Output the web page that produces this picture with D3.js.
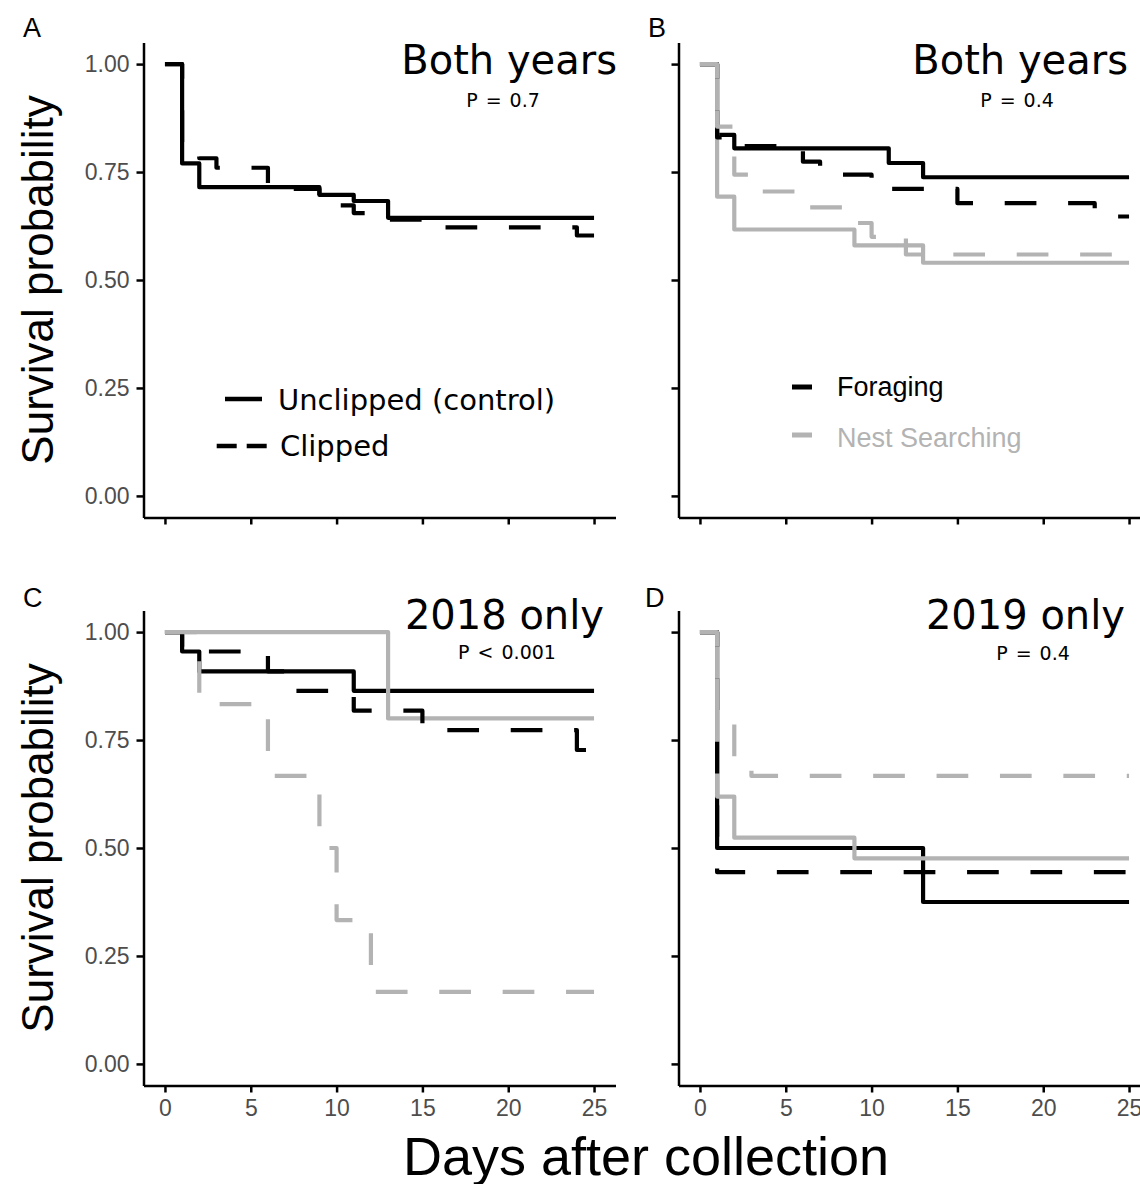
<!DOCTYPE html>
<html>
<head>
<meta charset="utf-8">
<script src="https://cdn.jsdelivr.net/npm/d3@7"></script>
<style>
  body { margin: 0; background: #fff; }
  svg { display: block; }
</style>
</head>
<body>
<svg id="chart" width="1140" height="1184"></svg>
<script>
// axis ticks
const dayTicks = [0, 5, 10, 15, 20, 25]
const probTicks = [0, 0.25, 0.5, 0.75, 1]

// A: both years, clipping treatment
const aUnclippedDays = [0, 1, 2, 9, 11, 13, 25]
const aUnclippedSurv = [1, 0.770, 0.715, 0.697, 0.683, 0.644, 0.644]
const aClippedDays = [0, 1, 2, 3, 6, 9, 11, 13, 15, 24, 25]
const aClippedSurv = [1, 0.800, 0.782, 0.760, 0.711, 0.673, 0.655, 0.640, 0.622, 0.603, 0.603]

// B: both years, foraging vs nest searching
const bForUnclDays = [0, 1, 2, 11, 13, 25]
const bForUnclSurv = [1, 0.836, 0.805, 0.771, 0.738, 0.738]
const bForClipDays = [0, 1, 2, 6, 7, 10, 15, 23, 25]
const bForClipSurv = [1, 0.830, 0.810, 0.774, 0.744, 0.711, 0.678, 0.647, 0.647]
const bNestUnclDays = [0, 1, 2, 9, 13, 25]
const bNestUnclSurv = [1, 0.693, 0.617, 0.580, 0.540, 0.540]
const bNestClipDays = [0, 1, 2, 3, 6, 9, 10, 12, 25]
const bNestClipSurv = [1, 0.855, 0.744, 0.705, 0.668, 0.632, 0.600, 0.559, 0.559]

// C: 2018 only
const cForUnclDays = [0, 1, 2, 11, 25]
const cForUnclSurv = [1, 0.955, 0.909, 0.864, 0.864]
const cForClipDays = [0, 1, 6, 7, 11, 15, 24, 25]
const cForClipSurv = [1, 0.955, 0.909, 0.864, 0.818, 0.773, 0.727, 0.727]
const cNestUnclDays = [0, 13, 25]
const cNestUnclSurv = [1, 0.800, 0.800]
const cNestClipDays = [0, 2, 6, 9, 10, 12, 25]
const cNestClipSurv = [1, 0.833, 0.667, 0.500, 0.333, 0.167, 0.167]

// D: 2019 only
const dForUnclDays = [0, 1, 13, 25]
const dForUnclSurv = [1, 0.500, 0.375, 0.375]
const dForClipDays = [0, 1, 25]
const dForClipSurv = [1, 0.444, 0.444]
const dNestUnclDays = [0, 1, 2, 9, 25]
const dNestUnclSurv = [1, 0.619, 0.524, 0.476, 0.476]
const dNestClipDays = [0, 1, 2, 3, 25]
const dNestClipSurv = [1, 0.800, 0.690, 0.667, 0.667]

const BLACK = '#000000'
const GREY = '#b3b3b3'
const SANS = "'Liberation Sans', Arial, sans-serif"
const VERDANA = "'DejaVu Sans', Verdana, sans-serif"

function series (days, surv, color, dashed) {
  return { points: days.map((d, i) => [d, surv[i]]), color, dashed }
}

// solid lines first, dashed on top (the way the reference stacks them)
const panels = [
  {
    letter: 'A', lx: 23, ly: 37, ox: 0, oy: 0, xLabels: false, yLabels: true,
    title: 'Both years', tx: 617, ty: 74, p: 'P = 0.7', px: 503, py: 107,
    series: [
      series(aUnclippedDays, aUnclippedSurv, BLACK, false),
      series(aClippedDays, aClippedSurv, BLACK, true)
    ]
  },
  {
    letter: 'B', lx: 648, ly: 37, ox: 535, oy: 0, xLabels: false, yLabels: false,
    title: 'Both years', tx: 1128, ty: 74, p: 'P = 0.4', px: 1017, py: 107,
    series: [
      series(bForUnclDays, bForUnclSurv, BLACK, false),
      series(bNestUnclDays, bNestUnclSurv, GREY, false),
      series(bForClipDays, bForClipSurv, BLACK, true),
      series(bNestClipDays, bNestClipSurv, GREY, true)
    ]
  },
  {
    letter: 'C', lx: 23, ly: 607, ox: 0, oy: 568, xLabels: true, yLabels: true,
    title: '2018 only', tx: 604, ty: 629, p: 'P < 0.001', px: 507, py: 659,
    series: [
      series(cForUnclDays, cForUnclSurv, BLACK, false),
      series(cNestUnclDays, cNestUnclSurv, GREY, false),
      series(cForClipDays, cForClipSurv, BLACK, true),
      series(cNestClipDays, cNestClipSurv, GREY, true)
    ]
  },
  {
    letter: 'D', lx: 645, ly: 607, ox: 535, oy: 568, xLabels: true, yLabels: false,
    title: '2019 only', tx: 1125, ty: 629, p: 'P = 0.4', px: 1033, py: 660,
    series: [
      series(dForUnclDays, dForUnclSurv, BLACK, false),
      series(dNestUnclDays, dNestUnclSurv, GREY, false),
      series(dForClipDays, dForClipSurv, BLACK, true),
      series(dNestClipDays, dNestClipSurv, GREY, true)
    ]
  }
]

const svg = d3.select('#chart')
svg.append('rect').attr('width', 1140).attr('height', 1184).attr('fill', '#fff')

function drawPanel (p) {
  const x = d3.scaleLinear().domain([-1.25, 26.25]).range([143.5 + p.ox, 615.5 + p.ox])
  const y = d3.scaleLinear().domain([-0.05, 1.05]).range([517.5 + p.oy, 42.5 + p.oy])

  const g = svg.append('g')

  const line = d3.line()
    .x(d => x(d[0]))
    .y(d => y(d[1]))
    .curve(d3.curveStepAfter)

  p.series.forEach(s => {
    g.append('path')
      .attr('d', line(s.points))
      .attr('fill', 'none')
      .attr('stroke', s.color)
      .attr('stroke-width', 4.2)
      .attr('stroke-linejoin', 'round')
      .attr('stroke-dasharray', s.dashed ? '31.7,31.7' : null)
  })

  const yAxis = d3.axisLeft(y).tickValues(probTicks).tickSize(7).tickSizeOuter(0).tickPadding(7)
    .tickFormat(p.yLabels ? d3.format('.2f') : '')
  const xAxis = d3.axisBottom(x).tickValues(dayTicks).tickSize(7).tickSizeOuter(0).tickPadding(7.5)
    .tickFormat(p.xLabels ? d3.format('d') : '')

  const ya = g.append('g').attr('transform', `translate(${x.range()[0]},0)`).call(yAxis)
  const xa = g.append('g').attr('transform', `translate(0,${y.range()[0]})`).call(xAxis)

  ;[ya, xa].forEach(a => {
    a.select('.domain').attr('stroke', '#000').attr('stroke-width', 2.5)
    a.selectAll('.tick line').attr('stroke', '#000').attr('stroke-width', 2.5)
    a.selectAll('.tick text')
      .attr('fill', '#4d4d4d')
      .style('font-family', SANS)
      .style('font-size', '23px')
  })

  svg.append('text').text(p.letter)
    .attr('x', p.lx).attr('y', p.ly)
    .style('font-family', SANS).style('font-size', '27px')

  svg.append('text').text(p.title)
    .attr('x', p.tx).attr('y', p.ty)
    .attr('text-anchor', 'end')
    .style('font-family', VERDANA).style('font-size', '40px')

  svg.append('text').text(p.p)
    .attr('x', p.px).attr('y', p.py)
    .attr('text-anchor', 'middle')
    .style('font-family', VERDANA).style('font-size', '19px')
    .style('word-spacing', '2px')
}

panels.forEach(drawPanel)

// legend in A (linetype)
function legendKey (x1, x2, yy, color, width, dash) {
  svg.append('line')
    .attr('x1', x1).attr('x2', x2).attr('y1', yy).attr('y2', yy)
    .attr('stroke', color).attr('stroke-width', width)
    .attr('stroke-dasharray', dash)
}

legendKey(225, 262, 399, BLACK, 4.5, null)
legendKey(216.7, 266.7, 446, BLACK, 4.5, '20,10')
svg.append('text').text('Unclipped (control)')
  .attr('x', 278).attr('y', 410)
  .style('font-family', VERDANA).style('font-size', '29px')
svg.append('text').text('Clipped')
  .attr('x', 280).attr('y', 456)
  .style('font-family', VERDANA).style('font-size', '29px')

// legend in B (colour)
legendKey(792, 812, 387, BLACK, 5, null)
legendKey(792, 812, 435, GREY, 5, null)
svg.append('text').text('Foraging')
  .attr('x', 837).attr('y', 396)
  .style('font-family', SANS).style('font-size', '27px')
svg.append('text').text('Nest Searching')
  .attr('x', 837).attr('y', 447).attr('fill', GREY)
  .style('font-family', SANS).style('font-size', '27px')

// shared axis titles
;[280, 848].forEach(cy => {
  svg.append('text').text('Survival probability')
    .attr('transform', `translate(53,${cy}) rotate(-90)`)
    .attr('text-anchor', 'middle')
    .style('font-family', SANS).style('font-size', '44px')
})

svg.append('text').text('Days after collection')
  .attr('x', 646).attr('y', 1175)
  .attr('text-anchor', 'middle')
  .style('font-family', SANS).style('font-size', '54px')
</script>
</body>
</html>
